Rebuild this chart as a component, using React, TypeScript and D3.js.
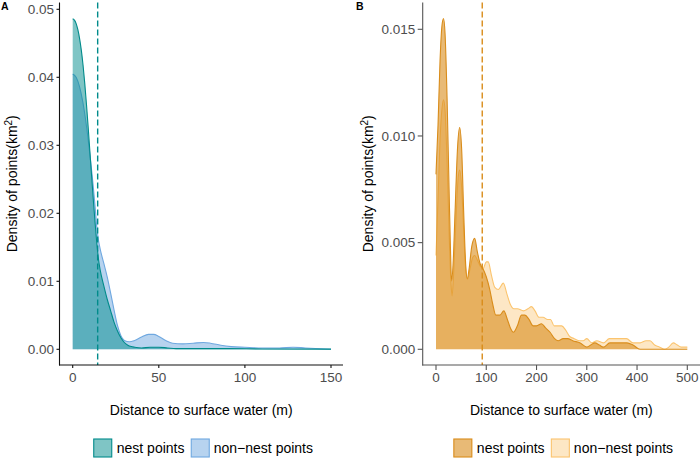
import React from 'react';
import * as d3 from 'd3';

// density estimates: [distance (m), density]
const nestA: [number, number][] = [
  [0, 0.0486], [1, 0.0484], [2, 0.0479], [3, 0.0470], [4, 0.0457], [5, 0.0440],
  [6, 0.0418], [7, 0.0391], [8, 0.0360], [9, 0.0326], [10, 0.0290], [11, 0.0254],
  [12, 0.0219], [13, 0.0186], [14, 0.0156], [15, 0.0132], [16, 0.0116], [18, 0.0094],
  [20, 0.0074], [22, 0.0057], [24, 0.0040], [26, 0.0027], [28, 0.0017], [30, 0.0010],
  [32, 0.0006], [34, 0.0004], [36, 0.0003], [40, 0.0002], [45, 0.0003], [50, 0.0003],
  [55, 0.0002], [60, 0.0001], [75, 0.0001], [90, 0.0001], [110, 0.00005], [150, 0.00003],
];
const nonNestA: [number, number][] = [
  [0, 0.0405], [2, 0.0400], [4, 0.0386], [6, 0.0362], [8, 0.0328], [10, 0.0286],
  [12, 0.0238], [13, 0.0210], [14, 0.0180], [15, 0.0160], [16, 0.0147], [18, 0.0127],
  [20, 0.0107], [22, 0.0083], [24, 0.0058], [26, 0.0035], [28, 0.0020], [30, 0.0013],
  [33, 0.0011], [36, 0.0013], [40, 0.0018], [44, 0.0022], [47, 0.0022], [50, 0.0019],
  [54, 0.0013], [58, 0.0009], [64, 0.0008], [70, 0.0009], [76, 0.0010], [80, 0.0009],
  [86, 0.0006], [92, 0.0004], [100, 0.0003], [110, 0.0002], [120, 0.0002], [128, 0.0003],
  [135, 0.0002], [150, 0.0000],
];
const nestB: [number, number][] = [
  [0, 0.0082], [4, 0.0105], [8, 0.0135], [12, 0.0152], [15, 0.0155], [18, 0.0148],
  [22, 0.0118], [26, 0.0075], [29, 0.0045], [31, 0.0032], [34, 0.0040], [38, 0.0065],
  [43, 0.0095], [47, 0.0104], [51, 0.0094], [55, 0.0065], [59, 0.0040], [62, 0.0033],
  [66, 0.0038], [71, 0.0048], [77, 0.0052], [82, 0.0046], [88, 0.0040], [93, 0.0038],
  [100, 0.0034], [107, 0.0028], [113, 0.0021], [119, 0.0016], [127, 0.0016], [135, 0.0018],
  [142, 0.0014], [148, 0.0010], [154, 0.0008], [162, 0.0011], [170, 0.0016], [177, 0.0016],
  [185, 0.0014], [193, 0.0011], [200, 0.0011], [210, 0.0012], [218, 0.0010], [227, 0.0008],
  [236, 0.0005], [243, 0.0004], [253, 0.0005], [262, 0.0005], [272, 0.0004], [287, 0.0003],
  [300, 0.0001], [308, 0.0002], [316, 0.0003], [325, 0.0002], [333, 0.0001], [346, 0.0003],
  [359, 0.0003], [370, 0.0003], [380, 0.0003], [392, 0.0002], [406, 0.0000], [450, 0.0000],
  [500, 0.0000],
];
const nonNestB: [number, number][] = [
  [0, 0.0044], [4, 0.0070], [8, 0.0098], [12, 0.0113], [15, 0.0117], [18, 0.0112],
  [22, 0.0088], [26, 0.0055], [30, 0.0030], [32, 0.0025], [35, 0.0035], [40, 0.0062],
  [44, 0.0080], [47, 0.0084], [51, 0.0076], [55, 0.0056], [59, 0.0038], [63, 0.0033],
  [68, 0.0038], [73, 0.0043], [77, 0.0044], [82, 0.0042], [88, 0.0039], [94, 0.0038],
  [100, 0.0041], [104, 0.0041], [110, 0.0035], [117, 0.0029], [124, 0.0028], [134, 0.0031],
  [141, 0.0026], [148, 0.0021], [155, 0.0019], [162, 0.0019], [174, 0.0018], [183, 0.0019],
  [190, 0.0020], [197, 0.0018], [205, 0.0015], [213, 0.0015], [222, 0.0014], [228, 0.0014],
  [235, 0.0011], [243, 0.0011], [250, 0.0011], [258, 0.0009], [266, 0.0006], [275, 0.0005],
  [286, 0.0004], [293, 0.0004], [300, 0.0005], [310, 0.0003], [320, 0.0004], [333, 0.0003],
  [345, 0.0005], [355, 0.0005], [366, 0.0005], [379, 0.0005], [392, 0.0003], [406, 0.0003],
  [418, 0.0004], [426, 0.0004], [435, 0.0002], [445, 0.0001], [455, 0.0000], [463, 0.0001],
  [472, 0.0003], [480, 0.0002], [488, 0.0001], [500, 0.0001],
];

// mean distance markers
const meanA = 14.5;
const meanB = 92;

const xTicksA = [0, 50, 100, 150];
const yTicksA = [0, 0.01, 0.02, 0.03, 0.04, 0.05];
const xTicksB = [0, 100, 200, 300, 400, 500];
const yTicksB = [0, 0.005, 0.01, 0.015];

const legendLabels = ['nest points', 'non\u2212nest points'];

const FONT = '"Liberation Sans", Arial, sans-serif';

type PanelProps = {
  tag: string;
  tagX: number;
  left: number;
  right: number;
  x0: number; x1: number; xMax: number;
  y0: number; y1: number; yTop: number;
  xTicks: number[]; yTicks: number[]; yDigits: number;
  nest: [number, number][]; nonNest: [number, number][];
  mean: number;
  nestColor: string; nonNestColor: string;
  nestAlpha: number; nonNestAlpha: number;
  axisColor: string; tickLen: number;
  titleX: number;
};

function Panel(p: PanelProps) {
  const top = 2.5, bottom = 365;
  const x = d3.scaleLinear().domain([0, p.xMax]).range([p.x0, p.x1]);
  const y = d3.scaleLinear().domain([0, p.yTop]).range([p.y0, p.y1]);

  const area = d3.area<[number, number]>()
    .x(d => x(d[0])).y0(y(0)).y1(d => y(d[1]))
    .curve(d3.curveMonotoneX);
  const line = d3.line<[number, number]>()
    .x(d => x(d[0])).y(d => y(d[1]))
    .curve(d3.curveMonotoneX);

  const mid = (top + bottom) / 2;
  const legendC = (p.left + p.right) / 2 + 2.5;
  const fmt = d3.format(`.${p.yDigits}f`);

  return (
    <g fontFamily={FONT}>
      <text x={p.tagX} y={10} fontSize={10.5} fontWeight="bold">{p.tag}</text>

      <path d={area(p.nonNest) ?? ''} fill={p.nonNestColor} fillOpacity={p.nonNestAlpha} />
      <path d={line(p.nonNest) ?? ''} fill="none" stroke={p.nonNestColor} strokeWidth={1.1} />
      <path d={area(p.nest) ?? ''} fill={p.nestColor} fillOpacity={p.nestAlpha} />
      <path d={line(p.nest) ?? ''} fill="none" stroke={p.nestColor} strokeWidth={1.1} />

      <line x1={x(p.mean)} x2={x(p.mean)} y1={top} y2={bottom}
        stroke={p.nestColor} strokeWidth={1.4} strokeDasharray="6,3" />

      {/* axes */}
      <line x1={p.left} x2={p.left} y1={top} y2={bottom + 0.5} stroke={p.axisColor} strokeWidth={1.1} />
      <line x1={p.left - 0.5} x2={p.right} y1={bottom} y2={bottom} stroke={p.axisColor} strokeWidth={1.1} />
      {p.yTicks.map(t => (
        <g key={'y' + t}>
          <line x1={p.left - p.tickLen} x2={p.left} y1={y(t)} y2={y(t)} stroke={p.axisColor} strokeWidth={1.1} />
          <text x={p.left - p.tickLen - 2.5} y={y(t)} dy="0.36em" textAnchor="end" fontSize={13.5} fill="#4d4d4d">{fmt(t)}</text>
        </g>
      ))}
      {p.xTicks.map(t => (
        <g key={'x' + t}>
          <line x1={x(t)} x2={x(t)} y1={bottom} y2={bottom + p.tickLen} stroke={p.axisColor} strokeWidth={1.1} />
          <text x={x(t)} y={381.5} textAnchor="middle" fontSize={13.5} fill="#4d4d4d">{t}</text>
        </g>
      ))}

      {/* titles */}
      <text x={(p.left + p.right) / 2} y={415} textAnchor="middle" fontSize={14}>Distance to surface water (m)</text>
      <text transform={`translate(${p.titleX},${mid}) rotate(-90)`} textAnchor="middle" fontSize={14}>
        Density of points(km<tspan dy={-5} fontSize={10}>2</tspan><tspan dy={5}>)</tspan>
      </text>

      {/* legend */}
      <rect x={legendC - 110} y={439} width={18} height={18} fill={p.nestColor} fillOpacity={p.nestAlpha} stroke={p.nestColor} strokeWidth={1.1} />
      <text x={legendC - 87} y={453.3} fontSize={14}>{legendLabels[0]}</text>
      <rect x={legendC - 12.5} y={439} width={18} height={18} fill={p.nonNestColor} fillOpacity={p.nonNestAlpha} stroke={p.nonNestColor} strokeWidth={1.1} />
      <text x={legendC + 10} y={453.3} fontSize={14}>{legendLabels[1]}</text>
    </g>
  );
}

export default function App() {
  return (
    <svg width={700} height={458} style={{ position: 'absolute', left: 0, top: 0, background: '#fff' }}>
      <Panel tag="A" tagX={1} left={59.5} right={343} x0={72.7} x1={331} xMax={150}
        y0={349.3} y1={9.3} yTop={0.05} xTicks={xTicksA} yTicks={yTicksA} yDigits={2}
        nest={nestA} nonNest={nonNestA} mean={meanA}
        nestColor="#008b8b" nonNestColor="#6fa8e0" nestAlpha={0.5} nonNestAlpha={0.5}
        axisColor="#111" tickLen={3} titleX={16.7} />
      <Panel tag="B" tagX={356} left={422.7} right={700} x0={436} x1={687.3} xMax={500}
        y0={349.3} y1={29.3} yTop={0.015} xTicks={xTicksB} yTicks={yTicksB} yDigits={3}
        nest={nestB} nonNest={nonNestB} mean={meanB}
        nestColor="#d98c1a" nonNestColor="#fbc46e" nestAlpha={0.6} nonNestAlpha={0.4}
        axisColor="#555" tickLen={5} titleX={373.3} />
    </svg>
  );
}
